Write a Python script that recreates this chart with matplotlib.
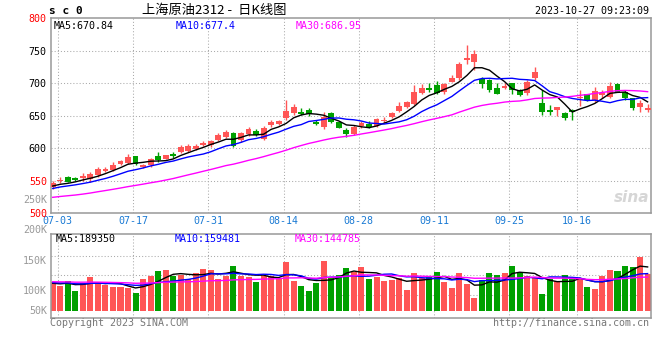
import numpy as np
import pandas as pd
import matplotlib
matplotlib.use("Agg")
import matplotlib.pyplot as plt

# daily K data, 06-30 .. 10-27
opens = [539.6, 548.8, 555.5, 554.0, 553.4, 552.4, 558.6, 564.7, 566.3, 575.5,
         576.5, 587.3, 571.4, 574.0, 587.8, 583.2, 591.4, 593.5, 595.5, 599.1,
         604.8, 605.3, 612.5, 617.6, 623.8, 612.0, 621.2, 626.9, 614.0, 635.6,
         636.6, 646.9, 653.6, 656.1, 658.7, 640.8, 633.0, 653.6, 640.2, 627.9,
         621.7, 634.6, 636.6, 634.6, 641.8, 648.4, 657.7, 662.8, 668.0, 684.4,
         693.1, 697.2, 685.9, 702.4, 708.5, 735.8, 733.2, 706.0, 705.0, 693.1,
         692.1, 699.8, 689.5, 684.4, 707.5, 670.0, 658.2, 658.7, 654.6, 658.7,
         677.7, 682.9, 674.1, 681.8, 679.3, 698.3, 687.0, 676.7, 663.8, 658.7]
highs = [550.0, 555.0, 557.5, 555.5, 561.7, 563.7, 571.0, 571.4, 579.0, 581.0,
         591.0, 588.0, 576.0, 585.3, 594.5, 590.0, 593.5, 604.8, 606.9, 605.8,
         610.9, 613.0, 622.8, 627.4, 625.3, 625.3, 633.0, 629.0, 634.0, 643.3,
         643.3, 674.1, 667.4, 661.2, 661.7, 643.8, 655.1, 655.1, 641.8, 631.5,
         635.6, 641.8, 641.8, 645.9, 648.4, 656.2, 671.6, 673.1, 697.2, 698.3,
         700.8, 703.4, 699.8, 712.6, 733.2, 758.9, 751.2, 710.0, 706.0, 699.8,
         699.8, 700.8, 691.0, 705.0, 725.5, 689.5, 666.4, 663.8, 656.2, 659.8,
         689.5, 683.9, 694.7, 689.5, 702.4, 699.8, 689.5, 677.7, 674.1, 667.4]
lows = [537.0, 546.0, 547.0, 550.0, 550.0, 548.3, 555.0, 562.7, 564.7, 574.5,
        575.0, 574.0, 569.9, 571.4, 579.0, 583.0, 584.3, 592.0, 593.5, 597.1,
        603.3, 602.2, 611.0, 615.1, 601.7, 610.0, 619.2, 618.0, 612.5, 633.0,
        635.6, 643.3, 651.0, 651.0, 650.0, 635.6, 629.4, 638.2, 630.5, 617.6,
        620.2, 630.5, 630.5, 633.0, 638.2, 646.0, 656.2, 661.2, 666.4, 682.9,
        686.0, 683.9, 683.9, 701.4, 705.0, 729.1, 720.4, 693.1, 687.0, 683.4,
        691.0, 683.4, 680.3, 681.8, 705.0, 651.0, 651.0, 650.0, 643.3, 643.3,
        665.4, 672.6, 671.6, 677.7, 677.7, 685.9, 674.1, 658.7, 656.2, 656.2]
closes = [546.8, 551.4, 548.3, 551.3, 557.0, 559.6, 567.3, 568.3, 574.0, 580.0,
          586.3, 575.5, 574.5, 582.7, 581.7, 588.9, 588.4, 601.7, 603.8, 603.2,
          608.4, 611.0, 620.2, 625.3, 603.3, 622.8, 630.0, 620.2, 630.5, 640.8,
          641.8, 657.2, 663.3, 652.0, 652.0, 637.2, 648.4, 639.7, 631.5, 621.7,
          633.0, 638.2, 633.0, 644.3, 643.3, 654.6, 665.4, 671.6, 685.9, 693.1,
          690.0, 685.4, 698.3, 708.5, 729.1, 738.3, 744.5, 698.8, 689.5, 683.4,
          696.2, 689.5, 681.8, 702.4, 716.8, 656.2, 655.1, 663.8, 646.9, 656.1,
          679.3, 674.1, 688.0, 684.4, 695.7, 687.0, 676.7, 661.3, 670.0, 661.2]
volumes = [129, 110, 132, 89, 125, 151, 125, 113, 107, 107,
           99, 80, 142, 156, 176, 182, 154, 157, 140, 166,
           187, 182, 141, 156, 199, 156, 151, 129, 156, 156,
           144, 218, 132, 110, 87, 125, 221, 144, 159, 188,
           171, 193, 139, 151, 132, 136, 144, 92, 166, 144,
           154, 171, 129, 99, 166, 119, 55, 136, 166, 159,
           166, 199, 166, 154, 144, 74, 141, 133, 159, 148,
           139, 105, 96, 156, 181, 176, 199, 196, 240, 163]

# earlier sessions (estimated from where the MA lines start)
hist_close = [512, 515, 518, 514, 510, 508, 513, 517, 520, 522,
              519, 516, 521, 524, 520, 518, 516, 519, 522, 523,
              528, 532, 535, 537, 538, 538, 541, 540, 542]
hist_vol = [128, 135, 130, 126, 138, 132, 129, 134, 127, 131,
            136, 125, 133, 130, 128, 135, 132, 129, 131, 131,
            126, 131, 125, 130, 128, 122, 118, 121, 120]

tick_idx = [1, 11, 21, 31, 41, 51, 61, 70]
tick_labels = ["07-03", "07-17", "07-31", "08-14", "08-28", "09-11", "09-25", "10-16"]
price_ticks = [500, 550, 600, 650, 700, 750, 800]
price_tick_colors = ["#ff0000", "#ff0000", "#000000", "#000000", "#000000", "#000000", "#ff0000"]
vol_labels = ["250K", "200K", "150K", "100K", "50K"]

RED = "#ff5555"
GREEN = "#00a000"
XBLUE = "#1a7ad4"
MONO = ["DejaVu Sans Mono"]

o = np.array(opens)
h = np.array(highs)
l = np.array(lows)
c = np.array(closes)
v = np.array(volumes) * 1000.0
x = np.arange(len(c))
up = c >= o
cols = np.where(up, RED, GREEN)

n0 = len(hist_close)
c_all = pd.Series(hist_close + closes)
v_all = pd.Series([q * 1000.0 for q in hist_vol] + list(v))

fig = plt.figure(figsize=(6.6, 3.6), dpi=100)
ax = fig.add_axes([51 / 660, 147 / 360, 600 / 660, 194.7 / 360])
axv = fig.add_axes([51 / 660, 41.7 / 360, 600 / 660, 84 / 360])

for a in (ax, axv):
    a.set_xlim(-0.23, 79.45)
    for s in a.spines.values():
        s.set_color("#999999")
        s.set_linewidth(1.1)
    a.tick_params(length=0)
    for t in tick_idx:
        a.axvline(t - 0.35, color="#aaaaaa", lw=0.75, ls=(0, (1, 2)), zorder=0)

# candles
ax.set_ylim(500, 800)
ax.vlines(x, l, h, colors=cols, lw=1.0, zorder=2)
body = np.maximum(np.abs(c - o), 1.2)
ax.bar(x, body, bottom=np.minimum(o, c), width=0.78, color=cols, zorder=3)
for n, col in [(5, "#000000"), (10, "#0000ff"), (30, "#ff00ff")]:
    ax.plot(x, c_all.rolling(n).mean().values[n0:], color=col, lw=1.0, zorder=4)
for p in price_ticks[1:-1]:
    ax.axhline(p, color="#aaaaaa", lw=0.75, ls=(0, (1, 2)), zorder=0)
ax.set_yticks(price_ticks)
ax.set_yticklabels([str(p) for p in price_ticks], family=MONO, fontsize=7.2)
for lab, col in zip(ax.get_yticklabels(), price_tick_colors):
    lab.set_color(col)
ax.tick_params(axis="y", pad=3)
ax.set_xticks([t - 0.35 for t in tick_idx])
ax.set_xticklabels(tick_labels, family=MONO, fontsize=7.2, color=XBLUE)
ax.tick_params(axis="x", pad=2)

ax.text(0.005, 0.962, "MA5:670.84", transform=ax.transAxes, family=MONO, fontsize=7.2, va="center")
ax.text(0.207, 0.962, "MA10:677.4", transform=ax.transAxes, family=MONO, fontsize=7.2,
        va="center", color="#0000ff")
ax.text(0.407, 0.962, "MA30:686.95", transform=ax.transAxes, family=MONO, fontsize=7.2,
        va="center", color="#ff00ff")
ax.text(0.998, 0.04, "sina", transform=ax.transAxes, fontsize=11, fontweight="bold",
        fontstyle="italic", color="#d6d6d6", ha="right", va="bottom", zorder=1)

# volume
axv.set_ylim(-33800, 340000)
axv.bar(x, v, width=0.8, color=cols, zorder=2)
for n, col in [(5, "#000000"), (10, "#0000ff"), (30, "#ff00ff")]:
    axv.plot(x, v_all.rolling(n).mean().values[n0:], color=col, lw=1.0, zorder=4)
for g in [70000, 157500, 245000]:
    axv.axhline(g, color="#aaaaaa", lw=0.75, ls=(0, (1, 2)), zorder=0)
axv.set_xticks([])
axv.set_yticks([])
for lab, yf in zip(vol_labels, [1.41, 1.051, 0.686, 0.329, 0.09]):
    axv.text(-0.0067, yf, lab, transform=axv.transAxes, family=MONO, fontsize=7.2,
             color="#999999", ha="right", va="center", clip_on=False)
axv.text(0.007, 0.944, "MA5:189350", transform=axv.transAxes, family=MONO, fontsize=7.2, va="center")
axv.text(0.206, 0.944, "MA10:159481", transform=axv.transAxes, family=MONO, fontsize=7.2,
         va="center", color="#0000ff")
axv.text(0.406, 0.944, "MA30:144785", transform=axv.transAxes, family=MONO, fontsize=7.2,
         va="center", color="#ff00ff")

# header / footer
fig.text(49 / 660, 1 - 11 / 360, "s c 0", family=MONO, fontsize=8, fontweight="bold", va="center")
fig.text(214 / 660, 1 - 10 / 360, "上海原油2312 -  日K线图", family=["Noto Sans CJK SC", "DejaVu Sans"],
         fontsize=9.5, ha="center", va="center")
fig.text(649 / 660, 1 - 11.5 / 360, "2023-10-27 09:23:09", family=MONO, fontsize=7.2, ha="right", va="center")
fig.text(50 / 660, 1 - 323 / 360, "Copyright 2023 SINA.COM", family=MONO, fontsize=7.2,
         color="#777777", va="center")
fig.text(649 / 660, 1 - 323 / 360, "http://finance.sina.com.cn", family=MONO, fontsize=7.2,
         color="#777777", ha="right", va="center")

fig.savefig("out.png", dpi=100)
